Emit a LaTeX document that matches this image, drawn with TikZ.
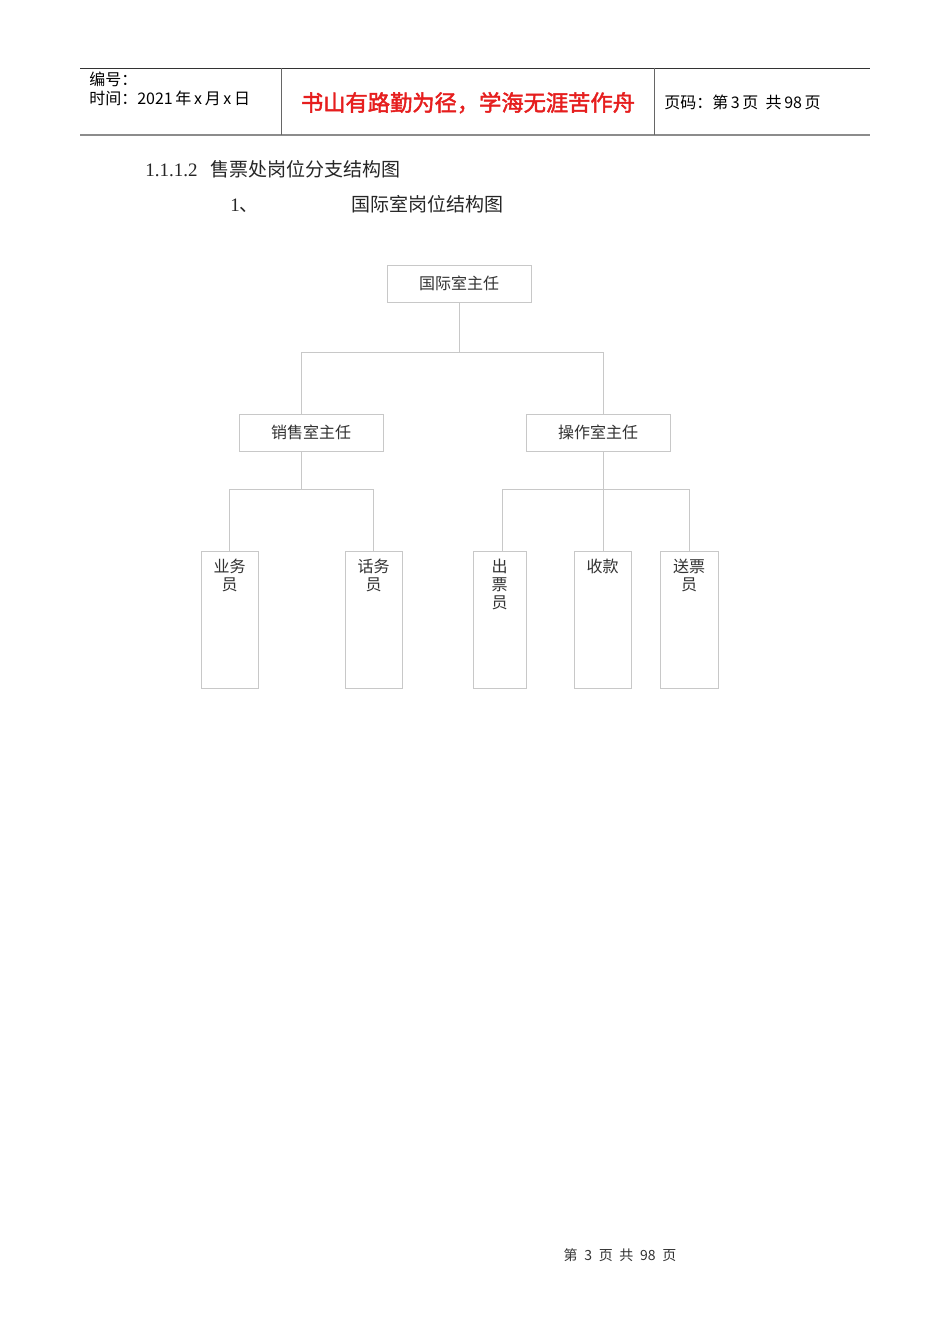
\documentclass[tikz,border=0pt]{standalone}
\usepackage{fontspec}
\setmainfont{Liberation Serif}
\newfontfamily\cjk{Noto Sans CJK SC}
\newfontfamily\cjkb{Noto Sans CJK SC}[BoldFont=*,BoldFeatures={FakeBold=2}]
\definecolor{linegray}{RGB}{200,200,200}
\definecolor{txtgray}{RGB}{50,50,50}
\definecolor{hdrred}{RGB}{230,30,30}
\tikzset{
  box/.style={draw=linegray, line width=0.6pt, fill=white, inner sep=0pt},
  conn/.style={draw=linegray, line width=0.6pt},
  boxtext/.style={font=\cjk\fontsize{12}{13.5}\selectfont, text=txtgray, inner sep=0pt, align=center},
  hdr/.style={font=\cjk\fontsize{12}{13}\selectfont, text=black, inner sep=0pt, anchor=base west},
}
\begin{document}
\begin{tikzpicture}[x=0.75pt,y=-0.75pt]
\useasboundingbox (0,0) rectangle (950,1344);
\fill[white] (0,0) rectangle (950,1344);
% header
\coordinate (hl) at (80,68);
\coordinate (hr) at (870,68);
\coordinate (bl) at (80,135.5);
\coordinate (br) at (870,135.5);
\draw[line width=0.7pt, black!80] (hl) -- (hr);
\draw[line width=1.5pt, black!45] (bl) -- (br);
\coordinate (s1t) at (281,68);
\coordinate (s2t) at (654,68);
\draw[line width=0.7pt, black!60] (s1t) -- (s1t |- bl);
\draw[line width=0.7pt, black!60] (s2t) -- (s2t |- bl);
\node[hdr] (h1) at (89,86) {编号：};
\node[hdr] (h2) at (89,105) {时间：2021\,年\,x\,月\,x\,日};
\node[font=\cjkb\fontsize{16.7}{18}\selectfont\bfseries, text=hdrred, inner sep=0pt, anchor=base] (motto) at (468,111) {书山有路勤为径，学海无涯苦作舟};
\node[hdr] (pg) at (664,109) {页码：第\,3\,页\ \ 共\,98\,页};
% section titles
\node[anchor=base west, inner sep=0pt, font=\fontsize{14.25}{16}\selectfont, text=black!85] (sec) at (145,176.5) {1.1.1.2\hspace{10pt}{\cjk 售票处岗位分支结构图}};
\node[anchor=base west, inner sep=0pt, font=\fontsize{14.25}{16}\selectfont, text=black!85] (num) at (230,211.5) {1{\cjk 、}};
\node[anchor=base west, inner sep=0pt, font=\cjk\fontsize{14.25}{16}\selectfont, text=black!85] (title) at (351,211.5) {国际室岗位结构图};
% boxes
\node[box, minimum width=144*0.75pt, minimum height=37*0.75pt] (top) at (459,283.5) {};
\node[boxtext] at (top.center) {国际室主任};
\node[box, minimum width=144*0.75pt, minimum height=37*0.75pt] (sales) at (311,432.5) {};
\node[boxtext] at (sales.center) {销售室主任};
\node[box, minimum width=144*0.75pt, minimum height=37*0.75pt] (ops) at (598,432.5) {};
\node[boxtext] at (ops.center) {操作室主任};
\node[box, minimum width=57*0.75pt, minimum height=137*0.75pt] (b1) at (229.5,619.5) {};
\node[boxtext, anchor=north] at ([yshift=-8*0.75pt]b1.north) {业务\\员};
\node[box, minimum width=57*0.75pt, minimum height=137*0.75pt] (b2) at (373.5,619.5) {};
\node[boxtext, anchor=north] at ([yshift=-8*0.75pt]b2.north) {话务\\员};
\node[box, minimum width=53*0.75pt, minimum height=137*0.75pt] (b3) at (499.5,619.5) {};
\node[boxtext, anchor=north] at ([yshift=-8*0.75pt]b3.north) {出\\票\\员};
\node[box, minimum width=57*0.75pt, minimum height=137*0.75pt] (b4) at (602.5,619.5) {};
\node[boxtext, anchor=north] at ([yshift=-8*0.75pt]b4.north) {收款};
\node[box, minimum width=58*0.75pt, minimum height=137*0.75pt] (b5) at (689,619.5) {};
\node[boxtext, anchor=north] at ([yshift=-8*0.75pt]b5.north) {送票\\员};
% connectors
\coordinate (h1L) at (301,352);
\coordinate (h1R) at (603,352);
\draw[conn] (top.south) -- (top.south |- h1L);
\draw[conn] (h1L) -- (h1R);
\draw[conn] (h1L) -- (h1L |- sales.north);
\draw[conn] (h1R) -- (h1R |- ops.north);
\coordinate (h2a) at (229.5,489);
\coordinate (h2b) at (373.5,489);
\draw[conn] (h1L |- sales.south) -- (h1L |- h2a);
\draw[conn] (h2a) -- (h2b);
\draw[conn] (h2a) -- (b1.north);
\draw[conn] (h2b) -- (b2.north);
\coordinate (h3a) at (502,489);
\coordinate (h3c) at (689,489);
\draw[conn] (h1R |- ops.south) -- (h1R |- b4.north);
\draw[conn] (h3a) -- (h3c);
\draw[conn] (h3a) -- (h3a |- b3.north);
\draw[conn] (h3c) -- (b5.north);
% footer
\node[anchor=base, inner sep=0pt, font=\cjk\fontsize{10.5}{12}\selectfont, text=black!80] (foot) at (620,1260) {第\hspace{5pt}3\hspace{5pt}页\hspace{5pt}共\hspace{5pt}98\hspace{5pt}页};
\end{tikzpicture}
\end{document}
